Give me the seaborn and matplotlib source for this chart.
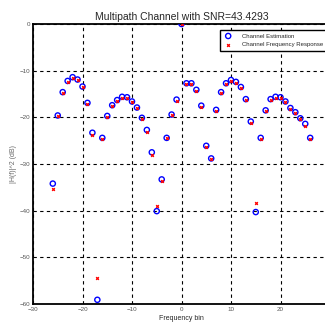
import matplotlib
matplotlib.use("Agg")
import matplotlib.pyplot as plt
import seaborn as sns
import pandas as pd
import numpy as np

bins = list(range(-26, 27))
est_db = [-34.2, -19.6, -14.6, -12.2, -11.4, -11.9, -13.4, -16.9, -23.3, -59.1,
          -24.4, -19.7, -17.4, -16.3, -15.6, -15.7, -16.6, -17.9, -20.1, -22.7,
          -27.5, -40.1, -33.3, -24.4, -19.4, -16.2,
          0.0,
          -12.7, -12.7, -14.1, -17.5, -26.1, -28.8, -18.4, -14.6, -12.7, -12.0,
          -12.4, -13.5, -16.1, -20.9, -40.3, -24.4, -18.5, -16.1, -15.6, -15.7,
          -16.6, -18.0, -18.9, -20.2, -21.4, -24.4]
resp_db = [-35.4, -19.8, -14.8, -12.5, -11.6, -12.1, -13.6, -17.1, -23.7, -54.5,
           -24.6, -19.9, -17.6, -16.5, -15.8, -15.9, -16.8, -18.1, -20.3, -23.2,
           -28.0, -39.1, -33.7, -24.5, -19.6, -16.4,
           -0.1,
           -12.9, -12.9, -14.3, -17.7, -26.3, -29.0, -18.6, -14.8, -12.9, -12.2,
           -12.6, -13.7, -16.3, -21.3, -38.3, -24.6, -18.7, -16.3, -15.8, -15.9,
           -16.8, -18.2, -19.1, -20.4, -21.8, -24.6]
x_ticks = [-30, -20, -10, 0, 10, 20]
y_ticks = [-60, -50, -40, -30, -20, -10, 0]

sns.set_style("white")
plt.rcParams['font.family'] = ['Liberation Sans', 'DejaVu Sans']

df_est = pd.DataFrame({"bin": bins, "db": est_db})
df_resp = pd.DataFrame({"bin": bins, "db": resp_db})

fig = plt.figure(figsize=(3.25, 3.31), dpi=100)
ax = fig.add_axes([33/325, 27/331, 297/325, 280/331])

sns.scatterplot(data=df_est, x="bin", y="db", ax=ax, marker="o", s=14,
                facecolors="none", edgecolor="#0000ff", linewidth=1.0,
                label="Channel Estimation", zorder=3)
sns.scatterplot(data=df_resp, x="bin", y="db", ax=ax, marker="x", s=4,
                color="#ff0000", linewidth=0.9, label="Channel Frequency Response",
                zorder=4)

ax.set_xlim(-30, 30)
ax.set_ylim(-60, 0)
ax.set_xticks(x_ticks)
ax.set_yticks(y_ticks)
ax.grid(True, color="black", linestyle=(0, (3, 3)), linewidth=0.8)
ax.tick_params(direction="in", length=3, width=0.8, labelsize=4.5,
               labelcolor="#555555", pad=2)
for s in ax.spines.values():
    s.set_color("black")
    s.set_linewidth(1.3)

ax.set_title("Multipath Channel with SNR=43.4293", fontsize=7.5, pad=3)
ax.set_xlabel("Frequency bin", fontsize=5, labelpad=2)
ax.set_ylabel("|H(f)|^2 (dB)", fontsize=5, labelpad=2, color="#666666")

leg = ax.legend(loc="upper left", bbox_to_anchor=(0.62, 0.99), fontsize=4.3,
                frameon=True, fancybox=False, edgecolor="black",
                handletextpad=1.5, borderpad=0.6, labelspacing=0.6,
                handlelength=1.5)
leg.get_frame().set_linewidth(1.0)
leg.get_frame().set_alpha(1)

fig.savefig("out.png", dpi=100)
